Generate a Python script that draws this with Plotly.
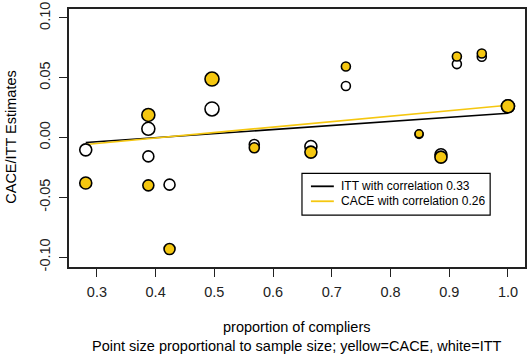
import plotly.graph_objects as go

# ---- data ----
prop_compliers = [0.281, 0.3876, 0.3876, 0.4237, 0.496, 0.568, 0.6644, 0.724, 0.8486, 0.8859, 0.913, 0.9554, 1.0]
itt_est        = [-0.0103, 0.0073, -0.0158, -0.0394, 0.0239, -0.0058, -0.0075, 0.0431, 0.0026, -0.0144, 0.0614, 0.0675, 0.0261]
cace_est       = [-0.0380, 0.0189, -0.0400, -0.0933, 0.0489, -0.0086, -0.0122, 0.0594, 0.0031, -0.0164, 0.0678, 0.0703, 0.0261]
point_size     = [12, 13, 11, 11, 14, 10, 12, 9, 8, 12, 9, 9, 13]

fit_x      = [0.281, 1.0]
itt_fit_y  = [-0.0042, 0.0203]
cace_fit_y = [-0.0058, 0.0270]

legend_labels = ["ITT with correlation 0.33", "CACE with correlation 0.26"]
x_ticks = [0.3, 0.4, 0.5, 0.6, 0.7, 0.8, 0.9, 1.0]
x_tick_text = ["0.3", "0.4", "0.5", "0.6", "0.7", "0.8", "0.9", "1.0"]
y_ticks = [-0.10, -0.05, 0.0, 0.05, 0.10]
y_tick_text = ["-0.10", "-0.05", "0.00", "0.05", "0.10"]

YELLOW = "#F5C710"
FONT = "Liberation Sans, Arial, sans-serif"

fig = go.Figure()
fig.add_trace(go.Scatter(x=fit_x, y=itt_fit_y, mode="lines",
                         line=dict(color="black", width=1.6), showlegend=False))
fig.add_trace(go.Scatter(x=fit_x, y=cace_fit_y, mode="lines",
                         line=dict(color=YELLOW, width=1.6), showlegend=False))
fig.add_trace(go.Scatter(x=prop_compliers, y=itt_est, mode="markers",
                         marker=dict(size=point_size, color="white", opacity=1,
                                     line=dict(color="black", width=1.6)),
                         showlegend=False))
fig.add_trace(go.Scatter(x=prop_compliers, y=cace_est, mode="markers",
                         marker=dict(size=point_size, color=YELLOW, opacity=1,
                                     line=dict(color="black", width=1.6)),
                         showlegend=False))

# manual legend (paper coords)
W, H = 529, 354
ml, mr, mt, mb = 69, 2, 8, 87
pw, ph = W - ml - mr, H - mt - mb

def px(xp):
    return (xp - ml) / pw

def py(yp):
    return 1 - (yp - mt) / ph

shapes = [
    dict(type="rect", xref="paper", yref="paper", x0=px(303), x1=px(492), y0=py(215), y1=py(173),
         line=dict(color="black", width=1.2), fillcolor="white"),
]
rows_y = [186, 201]
colors = ["black", YELLOW]
annotations = []
for lab, c, ry in zip(legend_labels, colors, rows_y):
    shapes.append(dict(type="line", xref="paper", yref="paper", x0=px(312), x1=px(335),
                       y0=py(ry), y1=py(ry), line=dict(color=c, width=1.8)))
    annotations.append(dict(xref="paper", yref="paper", x=px(340), y=py(ry), text=lab,
                            showarrow=False, xanchor="left", yanchor="middle",
                            font=dict(family=FONT, size=12, color="black")))

annotations.append(dict(xref="paper", yref="paper", x=0.5, y=py(327), text="proportion of compliers",
                        showarrow=False, xanchor="center", yanchor="middle",
                        font=dict(family=FONT, size=14.5, color="black")))
annotations.append(dict(xref="paper", yref="paper", x=0.5, y=py(346),
                        text="Point size proportional to sample size; yellow=CACE, white=ITT",
                        showarrow=False, xanchor="center", yanchor="middle",
                        font=dict(family=FONT, size=14.5, color="black")))
annotations.append(dict(xref="paper", yref="paper", x=px(10), y=py(137), text="CACE/ITT Estimates",
                        showarrow=False, xanchor="center", yanchor="middle", textangle=-90,
                        font=dict(family=FONT, size=14.5, color="black")))

fig.update_layout(
    width=W, height=H,
    margin=dict(l=ml, r=mr, t=mt, b=mb),
    paper_bgcolor="white", plot_bgcolor="white",
    shapes=shapes, annotations=annotations,
    font=dict(family=FONT, size=14.5, color="#222"),
)
fig.update_xaxes(range=[0.2525, 1.029], tickvals=x_ticks, ticktext=x_tick_text,
                 showgrid=False, zeroline=False, showline=True, mirror=True,
                 linecolor="#222", linewidth=1.5, ticks="outside", ticklen=8,
                 tickcolor="#222", tickwidth=1, ticklabelstandoff=3)
fig.update_yaxes(range=[-0.1083, 0.1075], tickvals=y_ticks, ticktext=y_tick_text,
                 showgrid=False, zeroline=False, showline=True, mirror=True,
                 linecolor="#222", linewidth=1.5, ticks="outside", ticklen=8,
                 tickcolor="#222", tickwidth=1, tickangle=-90, ticklabelstandoff=3)

fig.write_html("out.html")
